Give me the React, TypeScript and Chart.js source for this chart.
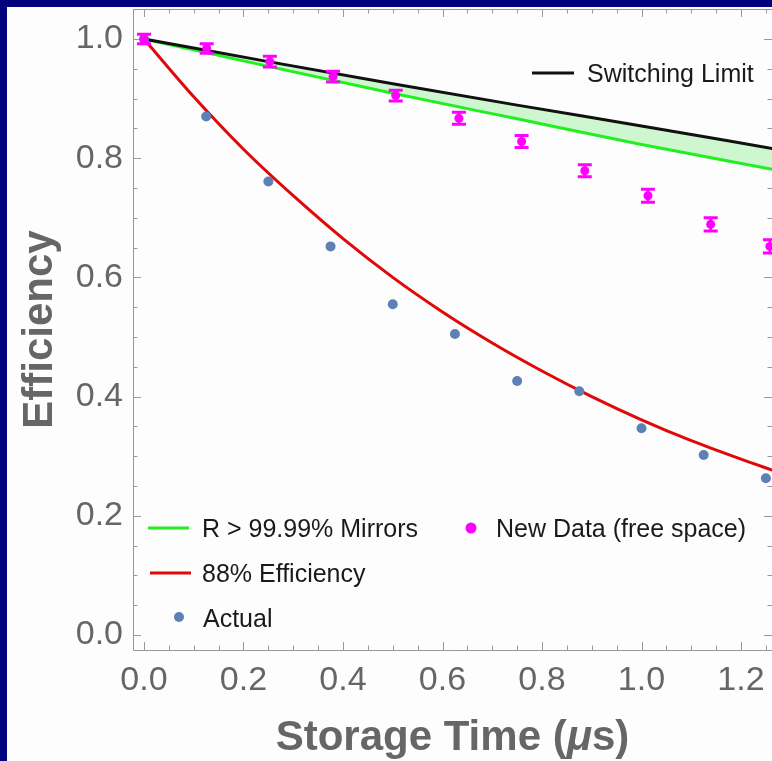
import React, { useEffect, useRef } from 'react';
import { Chart, registerables } from 'chart.js';

Chart.register(...registerables);

// ---------- data ----------
const xTickValues = [0, 0.2, 0.4, 0.6, 0.8, 1.0, 1.2];
const yTickValues = [0, 0.2, 0.4, 0.6, 0.8, 1.0];

const limitTimes = [0, 0.25, 0.5, 0.75, 1.0, 1.265];
const switchingLimit = [1.0, 0.962, 0.925, 0.889, 0.854, 0.816];
const mirrorLimit = [1.0, 0.954, 0.909, 0.866, 0.823, 0.781];

const effTimes = [0, 0.1, 0.2, 0.3, 0.4, 0.5, 0.6, 0.7, 0.8, 0.9, 1.0, 1.1, 1.2, 1.265];
const efficiency88 = [1.0, 0.903, 0.815, 0.737, 0.665, 0.600, 0.542, 0.490, 0.443, 0.400, 0.361, 0.326, 0.295, 0.276];

const actualTimes = [0, 0.125, 0.25, 0.375, 0.5, 0.625, 0.75, 0.875, 1.0, 1.125, 1.25];
const actualValues = [1.0, 0.870, 0.761, 0.652, 0.555, 0.505, 0.426, 0.409, 0.347, 0.302, 0.263];

const newTimes = [0, 0.126, 0.253, 0.38, 0.506, 0.633, 0.759, 0.886, 1.013, 1.139, 1.258];
const newValues = [1.0, 0.984, 0.962, 0.937, 0.905, 0.867, 0.828, 0.779, 0.737, 0.689, 0.652];
const newErrors = [0.008, 0.008, 0.009, 0.009, 0.009, 0.01, 0.01, 0.01, 0.011, 0.011, 0.011];

// ---------- styles ----------
const FONT = "'Liberation Sans', Arial, Helvetica, sans-serif";
const NAVY = '#02027c';
const BLACK = '#111111';
const GREEN = '#22ee22';
const FILL = '#cff7cf';
const RED = '#e00808';
const BLUE = '#5e81b5';
const MAGENTA = '#ff00ff';
const AXIS = '#999999';
const LABEL = '#666666';

const toXY = (xs: number[], ys: number[]) => xs.map((x, i) => ({ x, y: ys[i] }));

const backgroundPlugin = {
  id: 'bg',
  beforeDraw(chart: any) {
    const { ctx, width, height } = chart;
    ctx.save();
    ctx.fillStyle = '#fdfdfd';
    ctx.fillRect(0, 0, width, height);
    ctx.fillStyle = NAVY;
    ctx.fillRect(0, 0, 7, height);
    ctx.fillRect(0, 0, width, 7);
    ctx.restore();
  },
};

const framePlugin = {
  id: 'frame',
  beforeDatasetsDraw(chart: any) {
    const { ctx, chartArea: a, scales } = chart;
    const xs = scales.x;
    const ys = scales.y;
    ctx.save();
    ctx.strokeStyle = AXIS;
    ctx.lineWidth = 1;
    ctx.beginPath();
    ctx.moveTo(a.left + 0.5, a.top + 0.5);
    ctx.lineTo(a.left + 0.5, a.bottom + 0.5);
    ctx.lineTo(a.right + 1, a.bottom + 0.5);
    ctx.moveTo(a.left + 0.5, a.top + 0.5);
    ctx.lineTo(a.right + 1, a.top + 0.5);
    for (let k = 0; k <= 30; k++) {
      const v = k * 0.05;
      if (v < xs.min || v > xs.max) continue;
      const len = k % 4 === 0 ? 8 : 4.5;
      const x = Math.round(xs.getPixelForValue(v)) + 0.5;
      ctx.moveTo(x, a.bottom);
      ctx.lineTo(x, a.bottom - len);
      ctx.moveTo(x, a.top);
      ctx.lineTo(x, a.top + len);
    }
    for (let k = 0; k <= 25; k++) {
      const v = k * 0.05;
      if (v < ys.min || v > ys.max) continue;
      const len = k % 4 === 0 ? 8 : 4.5;
      const y = Math.round(ys.getPixelForValue(v)) + 0.5;
      ctx.moveTo(a.left, y);
      ctx.lineTo(a.left + len, y);
      ctx.moveTo(a.right, y);
      ctx.lineTo(a.right - len, y);
    }
    ctx.stroke();
    ctx.restore();
  },
};

const errorBarPlugin = {
  id: 'errbars',
  afterDatasetsDraw(chart: any) {
    const { ctx, scales } = chart;
    const xs = scales.x;
    const ys = scales.y;
    ctx.save();
    ctx.strokeStyle = MAGENTA;
    newTimes.forEach((t, i) => {
      const x = xs.getPixelForValue(t);
      const yTop = ys.getPixelForValue(newValues[i] + newErrors[i]);
      const yBot = ys.getPixelForValue(newValues[i] - newErrors[i]);
      ctx.lineWidth = 2.5;
      ctx.beginPath();
      ctx.moveTo(x, yTop);
      ctx.lineTo(x, yBot);
      ctx.stroke();
      ctx.lineWidth = 3;
      ctx.beginPath();
      ctx.moveTo(x - 7, yTop);
      ctx.lineTo(x + 7, yTop);
      ctx.moveTo(x - 7, yBot);
      ctx.lineTo(x + 7, yBot);
      ctx.stroke();
    });
    ctx.restore();
  },
};

const textPlugin = {
  id: 'texts',
  afterDraw(chart: any) {
    const { ctx, chartArea: a } = chart;
    ctx.save();
    const legendFont = `25px ${FONT}`;
    ctx.font = legendFont;
    ctx.textBaseline = 'alphabetic';
    ctx.textAlign = 'left';
    const line = (x1: number, x2: number, y: number, c: string) => {
      ctx.strokeStyle = c;
      ctx.lineWidth = 3;
      ctx.beginPath();
      ctx.moveTo(x1, y);
      ctx.lineTo(x2, y);
      ctx.stroke();
    };
    const dot = (x: number, y: number, r: number, c: string) => {
      ctx.fillStyle = c;
      ctx.beginPath();
      ctx.arc(x, y, r, 0, Math.PI * 2);
      ctx.fill();
    };
    line(532, 574, 73, BLACK);
    ctx.fillStyle = '#1a1a1a';
    ctx.fillText('Switching Limit', 587, 81.5);

    line(148, 189, 528, GREEN);
    ctx.fillStyle = '#1a1a1a';
    ctx.fillText('R > 99.99% Mirrors', 202, 537);

    dot(471, 528, 5.5, MAGENTA);
    ctx.fillStyle = '#1a1a1a';
    ctx.fillText('New Data (free space)', 496, 537);

    line(150, 191, 573, RED);
    ctx.fillStyle = '#1a1a1a';
    ctx.fillText('88% Efficiency', 202, 582);

    dot(179, 617, 5, BLUE);
    ctx.fillStyle = '#1a1a1a';
    ctx.fillText('Actual', 203, 627);

    const boldF = `bold 42px ${FONT}`;
    const italF = `italic bold 42px ${FONT}`;
    const p1 = 'Storage Time (';
    const p2 = 'μ';
    const p3 = 's)';
    ctx.font = boldF;
    const w1 = ctx.measureText(p1).width;
    const w3 = ctx.measureText(p3).width;
    ctx.font = italF;
    const w2 = ctx.measureText(p2).width;
    const total = w1 + w2 + w3;
    let x = (a.left + a.right) / 2 - total / 2;
    const by = 750;
    ctx.fillStyle = LABEL;
    ctx.font = boldF;
    ctx.fillText(p1, x, by);
    x += w1;
    ctx.font = italF;
    ctx.fillText(p2, x, by);
    x += w2;
    ctx.font = boldF;
    ctx.fillText(p3, x, by);
    ctx.restore();
  },
};

export default function App() {
  const ref = useRef<HTMLCanvasElement | null>(null);

  useEffect(() => {
    if (!ref.current) return;
    const chart = new Chart(ref.current, {
      type: 'line',
      data: {
        datasets: [
          {
            label: 'New Data (free space)',
            data: toXY(newTimes, newValues),
            showLine: false,
            pointRadius: 4.5,
            pointBackgroundColor: MAGENTA,
            pointBorderWidth: 0,
            borderColor: MAGENTA,
          },
          {
            label: 'Actual',
            data: toXY(actualTimes, actualValues),
            showLine: false,
            pointRadius: 5,
            pointBackgroundColor: BLUE,
            pointBorderWidth: 0,
            borderColor: BLUE,
          },
          {
            label: '88% Efficiency',
            data: toXY(effTimes, efficiency88),
            borderColor: RED,
            borderWidth: 3,
            pointRadius: 0,
            cubicInterpolationMode: 'monotone',
            fill: false,
          },
          {
            label: 'Switching Limit',
            data: toXY(limitTimes, switchingLimit),
            borderColor: BLACK,
            borderWidth: 3,
            pointRadius: 0,
            cubicInterpolationMode: 'monotone',
            fill: false,
          },
          {
            label: 'R > 99.99% Mirrors',
            data: toXY(limitTimes, mirrorLimit),
            borderColor: GREEN,
            borderWidth: 3,
            pointRadius: 0,
            cubicInterpolationMode: 'monotone',
            fill: '-1',
            backgroundColor: FILL,
          },
        ],
      },
      options: {
        animation: false,
        responsive: false,
        devicePixelRatio: 1,
        layout: { autoPadding: false, padding: { top: 9, right: 0, bottom: 0, left: 0 } },
        plugins: {
          legend: { display: false },
          tooltip: { enabled: false },
        },
        scales: {
          x: {
            type: 'linear',
            min: -0.0221,
            max: 1.2623,
            grid: { display: false, drawTicks: false },
            border: { display: false },
            afterBuildTicks: (s: any) => {
              s.ticks = xTickValues.map((v) => ({ value: v }));
            },
            afterFit: (s: any) => {
              s.height = 111;
              s.paddingLeft = 0;
              s.paddingRight = 0;
            },
            ticks: {
              autoSkip: false,
              maxRotation: 0,
              padding: 10,
              color: LABEL,
              font: { size: 34, family: FONT },
              callback: (v: any) => Number(v).toFixed(1),
            },
          },
          y: {
            type: 'linear',
            min: -0.0252,
            max: 1.0503,
            grid: { display: false, drawTicks: false },
            border: { display: false },
            afterBuildTicks: (s: any) => {
              s.ticks = yTickValues.map((v) => ({ value: v }));
            },
            afterFit: (s: any) => {
              s.width = 133;
              s.paddingTop = 0;
              s.paddingBottom = 0;
              s.paddingLeft = 0;
              s.paddingRight = 0;
            },
            title: {
              display: true,
              text: 'Efficiency',
              color: LABEL,
              font: { size: 42, weight: 'bold', family: FONT },
              padding: { top: 15, bottom: 0 },
            },
            ticks: {
              autoSkip: false,
              padding: 10,
              color: LABEL,
              font: { size: 34, family: FONT },
              callback: (v: any) => Number(v).toFixed(1),
            },
          },
        },
      },
      plugins: [backgroundPlugin, framePlugin, errorBarPlugin, textPlugin],
    } as any);
    return () => chart.destroy();
  }, []);

  return (
    <div style={{ position: 'fixed', left: 0, top: 0, width: 772, height: 761 }}>
      <canvas ref={ref} width={772} height={761} style={{ display: 'block', width: 772, height: 761 }} />
    </div>
  );
}
